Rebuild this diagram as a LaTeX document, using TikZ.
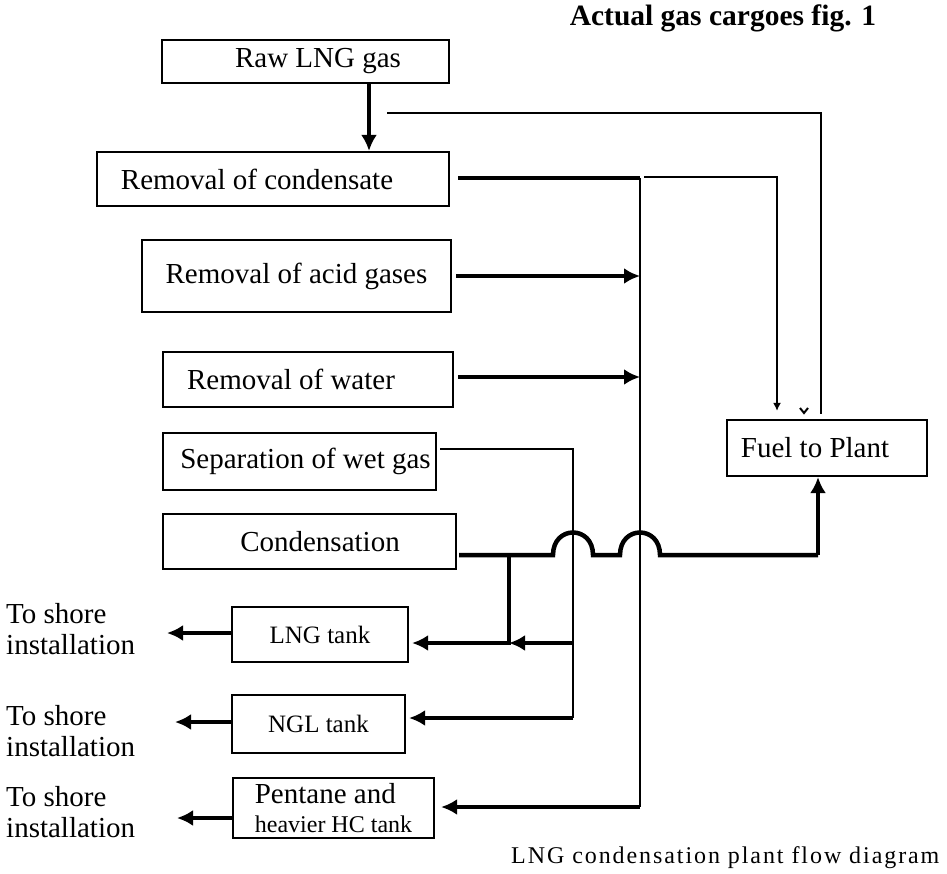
\documentclass[tikz,border=0pt]{standalone}
\usepackage{fontspec}
\setmainfont{Liberation Serif}
\usetikzlibrary{arrows.meta}

\begin{document}
\begin{tikzpicture}[x=1pt,y=-1pt,
  box/.style={draw,line width=2.2pt,inner sep=0pt,font=\fontsize{29}{32}\selectfont},
  flow/.style={line width=4.5pt},
  feed/.style={line width=2.6pt},
  shore/.style={align=left,inner sep=0pt,font=\fontsize{29}{31}\selectfont},
  >={Latex[length=16pt,width=16pt]}]
\useasboundingbox (0,0) rectangle (947,874);

\node[box,minimum width=287pt,minimum height=43pt] (raw) at (305.5,61.5) {\hspace*{25pt}Raw LNG gas};
\node[box,minimum width=352pt,minimum height=54pt] (remcond) at (273,179) {Removal of condensate\hspace*{32pt}};
\node[box,minimum width=309pt,minimum height=72pt] (acid) at (296.5,276) {Removal of acid gases};
\node[box,minimum width=290pt,minimum height=55pt] (water) at (308,379.5) {Removal of water\hspace*{34pt}};
\node[box,minimum width=273pt,minimum height=57pt] (wetgas) at (299.5,461.5) {\hspace*{12pt}Separation of wet gas};
\node[box,minimum width=293pt,minimum height=55pt] (condens) at (309.5,541.5) {\hspace*{21pt}Condensation};
\node[box,minimum width=200pt,minimum height=56pt] (fuel) at (827,448) {Fuel to Plant\hspace*{24pt}};
\node[box,minimum width=176pt,minimum height=55pt,font=\fontsize{25}{28}\selectfont] (lngtank) at (320,634.5) {LNG tank};
\node[box,minimum width=173pt,minimum height=58pt,font=\fontsize{25}{28}\selectfont] (ngltank) at (318.5,724) {NGL tank};
\node[box,minimum width=201pt,minimum height=60pt,align=left,font=\fontsize{29}{29}\selectfont] (pentank) at (333.5,808)
  {Pentane and\\{\fontsize{24}{26}\selectfont heavier HC tank}};

\node[shore,anchor=west] (shoreA) at (6,629) {To shore\\installation};
\node[shore,anchor=west] (shoreB) at (6,731) {To shore\\installation};
\node[shore,anchor=west] (shoreC) at (6,812) {To shore\\installation};

\node[font=\bfseries\fontsize{29.5}{32}\selectfont] (title) at (723,18) {Actual gas cargoes fig. 1};
\node[anchor=west,inner sep=0pt,font=\fontsize{24}{28}\selectfont\addfontfeature{LetterSpace=8}] (caption) at (511,858)
  {LNG condensation plant flow diagram};

\coordinate (drop) at (369,0);
\coordinate (retA) at (387,113);
\coordinate (retB) at (821,113);
\coordinate (trunk) at (640,178);
\coordinate (trunkend) at (640,807);
\coordinate (sideA) at (644,177);
\coordinate (sideB) at (777,177);
\coordinate (wetout) at (440,449);
\coordinate (wetdrop) at (573,449);
\coordinate (lngjoin) at (573,643);
\coordinate (ngljoin) at (573,718);
\coordinate (condout) at (459,555);
\coordinate (split) at (509,555);
\coordinate (splitfoot) at (509,643);
\coordinate (riser) at (818,555);
\coordinate (outA) at (167,633);
\coordinate (outB) at (175,722);
\coordinate (outC) at (177,818);

\draw[flow,->] (raw.south -| drop) -- (remcond.north -| drop);
\draw[feed,shorten >=5pt] (retA) -- (retB) -- (fuel.north -| retB);

\draw[flow] ([xshift=8pt]remcond.east |- trunk) -- (trunk);
\draw[feed] (trunk) -- (trunkend);
\draw[flow,->,shorten >=6pt] (trunkend) -- (trunkend -| pentank.east);
\draw[feed,-{Latex[length=8pt,width=8pt]},shorten >=8pt] (sideA) -- (sideB) -- (fuel.north -| sideB);
\draw[line width=2pt] (800,408) -- (804,413) -- (808,408);

\draw[flow,->] ([xshift=4pt]acid.east) -- (acid.east -| trunk);
\draw[flow,->] ([xshift=4pt]water.east |- 0,377) -- (trunk |- 0,377);

\draw[feed] (wetout) -- (wetdrop) -- (ngljoin);
\draw[flow,->,shorten >=3pt] (ngljoin) -- (ngljoin -| ngltank.east);
\draw[flow,->] (lngjoin) -- (splitfoot);

\draw[flow] (condout) -- (553,555) .. controls (553,525) and (593,525) .. (593,555)
  -- (620,555) .. controls (620,525) and (660,525) .. (660,555) -- (riser);
\draw[flow,->] (riser) -- (fuel.south -| riser);
\draw[flow,->,shorten >=3pt] (split) -- (splitfoot) -- (splitfoot -| lngtank.east);

\draw[flow,->] (lngtank.west |- outA) -- (outA);
\draw[flow,->] (ngltank.west |- outB) -- (outB);
\draw[flow,->] (pentank.west |- outC) -- (outC);

\end{tikzpicture}
\end{document}
